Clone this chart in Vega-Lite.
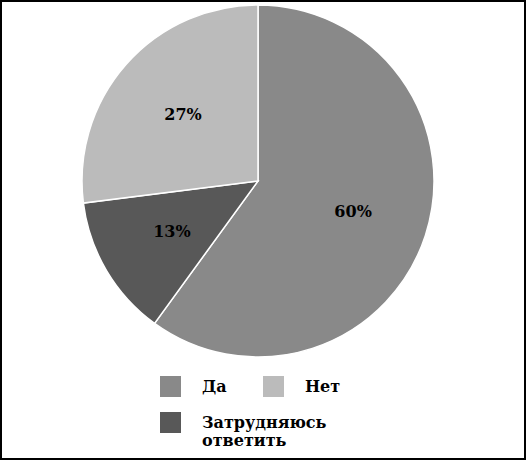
{
  "$schema": "https://vega.github.io/schema/vega-lite/v6.json",
  "width": 526,
  "height": 460,
  "autosize": "none",
  "padding": 0,
  "background": "white",
  "config": {"view": {"stroke": null}},
  "layer": [
    {
      "data": {"values": [{"k": 1}]},
      "mark": {"type": "rect", "fill": "transparent", "stroke": "black", "strokeWidth": 4},
      "encoding": {}
    },
    {
      "data": {"values": [
        {"answer": "Да", "value": 60, "ord": 1, "label": "60%"},
        {"answer": "Затрудняюсь ответить", "value": 13, "ord": 2, "label": "13%"},
        {"answer": "Нет", "value": 27, "ord": 3, "label": "27%"}
      ]},
      "encoding": {
        "theta": {"field": "value", "type": "quantitative", "stack": true},
        "order": {"field": "ord", "type": "quantitative"}
      },
      "layer": [
        {
          "mark": {"type": "arc", "outerRadius": 176, "x": 258, "y": 181, "stroke": "white", "strokeWidth": 1.5},
          "encoding": {
            "color": {
              "field": "answer", "type": "nominal",
              "scale": {"domain": ["Да", "Нет", "Затрудняюсь ответить"], "range": ["#898989", "#bbbbbb", "#585858"]},
              "legend": {
                "title": null,
                "orient": "none",
                "direction": "horizontal",
                "legendX": 160,
                "legendY": 376,
                "columns": 2,
                "gridAlign": "none",
                "columnPadding": -64,
                "rowPadding": 15,
                "symbolType": "square",
                "symbolSize": 440,
                "symbolStrokeWidth": 0,
                "symbolOpacity": 1,
                "labelOffset": 21,
                "labelFont": "DejaVu Serif",
                "labelFontWeight": "bold",
                "labelFontSize": 16,
                "labelColor": "black",
                "labelLimit": 300,
                "labelExpr": "datum.label == 'Затрудняюсь ответить' ? ['Затрудняюсь', 'ответить'] : datum.label"
              }
            }
          }
        },
        {
          "mark": {"type": "text", "radius": 100, "x": 258, "y": 181, "font": "DejaVu Serif", "fontWeight": "bold", "fontSize": 16, "fill": "black"},
          "encoding": {"text": {"field": "label"}}
        }
      ]
    }
  ]
}
